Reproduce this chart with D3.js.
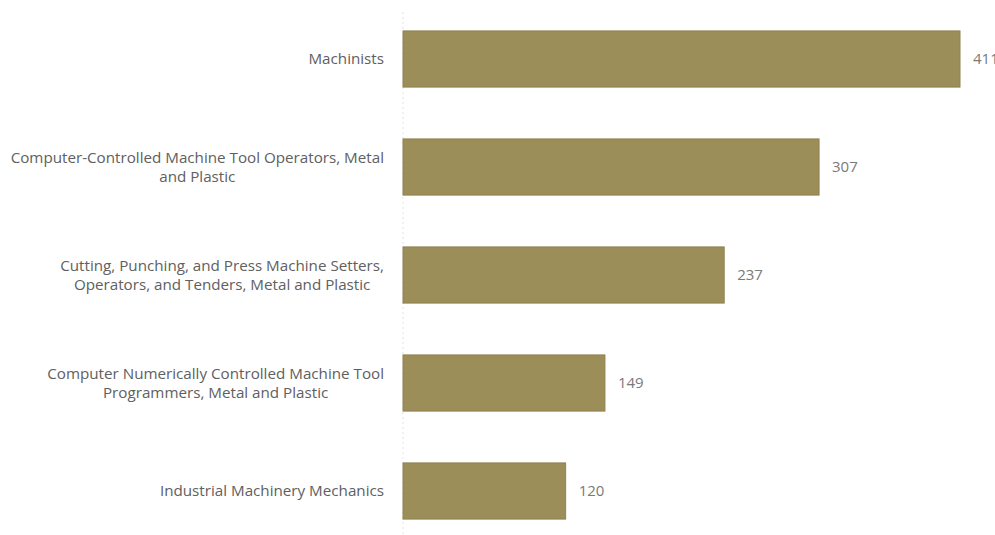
<!DOCTYPE html>
<meta charset="utf-8">
<style>
body { margin: 0; background: #fff; }
.label { font-family: "Open Sans", sans-serif; font-size: 15.2px; fill: #606060; }
.value { font-family: "Open Sans", sans-serif; font-size: 15px; fill: #7a7a7a; }
.bar { fill: #9c8e58; stroke: #8f8250; stroke-width: 1; }
.axisline { stroke: #e2e2e2; stroke-dasharray: 2,3; }
</style>
<svg width="995" height="535"></svg>
<script src="https://cdn.jsdelivr.net/npm/d3@7"></script>
<script>

var occupations = [
  "Machinists",
  "Computer-Controlled Machine Tool Operators, Metal and Plastic",
  "Cutting, Punching, and Press Machine Setters, Operators, and Tenders, Metal and Plastic",
  "Computer Numerically Controlled Machine Tool Programmers, Metal and Plastic",
  "Industrial Machinery Mechanics"
];
var counts = [411, 307, 237, 149, 120];

var svg = d3.select("svg"),
    x0 = 403,
    labelRight = 384;

var x = d3.scaleLinear().domain([0, 411]).range([x0, 960]);
var y = d3.scaleBand().domain(occupations).range([5, 545])
    .paddingInner(0.48).paddingOuter(0.24);

svg.append("line")
    .attr("class", "axisline")
    .attr("x1", x0).attr("x2", x0)
    .attr("y1", 12).attr("y2", 535);

svg.selectAll(".bar")
  .data(occupations)
  .enter().append("rect")
    .attr("class", "bar")
    .attr("x", x(0))
    .attr("y", function(d) { return y(d); })
    .attr("width", function(d, i) { return x(counts[i]) - x(0); })
    .attr("height", y.bandwidth());

svg.selectAll(".value")
  .data(occupations)
  .enter().append("text")
    .attr("class", "value")
    .attr("x", function(d, i) { return x(counts[i]) + 13; })
    .attr("y", function(d) { return y(d) + y.bandwidth() / 2; })
    .attr("dy", "0.35em")
    .text(function(d, i) { return counts[i]; });

// labels: word wrap, lines centred within a right-aligned block
svg.selectAll(".label")
  .data(occupations)
  .enter().append("text")
    .attr("class", "label")
    .attr("text-anchor", "middle")
    .each(function(d) {
      var t = d3.select(this),
          words = d.split(" "),
          lines = [], line = [];
      var probe = t.append("tspan");
      words.forEach(function(w) {
        line.push(w);
        probe.text(line.join(" "));
        if (probe.node().getComputedTextLength() > 385 && line.length > 1) {
          line.pop();
          lines.push(line.join(" "));
          line = [w];
        }
      });
      lines.push(line.join(" "));
      var maxW = 0;
      lines.forEach(function(l) {
        probe.text(l);
        maxW = Math.max(maxW, probe.node().getComputedTextLength());
      });
      probe.remove();
      var cx = labelRight - maxW / 2,
          cy = y(d) + y.bandwidth() / 2,
          lh = 19;
      lines.forEach(function(l, i) {
        t.append("tspan")
          .attr("x", cx)
          .attr("y", cy + (i - (lines.length - 1) / 2) * lh)
          .attr("dy", "0.35em")
          .text(l);
      });
    });

</script>
